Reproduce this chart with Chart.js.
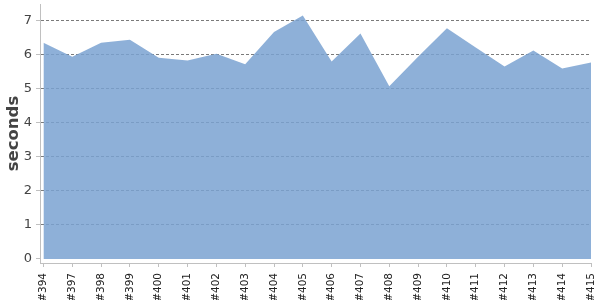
<!DOCTYPE html>
<html>
<head>
<meta charset="utf-8">
<script src="https://cdn.jsdelivr.net/npm/chart.js@4/dist/chart.umd.min.js"></script>
<style>
  html, body { margin: 0; padding: 0; background: #fff; }
  #wrap { width: 600px; height: 300px; position: relative; }
</style>
</head>
<body>
<div id="wrap"><canvas id="buildChart"></canvas></div>
<script>
// build numbers on the x axis
const builds = ['#394', '#397', '#398', '#399', '#400', '#401', '#402', '#403', '#404', '#405',
                '#406', '#407', '#408', '#409', '#410', '#411', '#412', '#413', '#414', '#415'];
// build duration, seconds
const durations = [6.36, 5.95, 6.36, 6.45, 5.92, 5.84, 6.04, 5.73, 6.68, 7.16,
                   5.81, 6.63, 5.08, 5.95, 6.79, 6.22, 5.66, 6.13, 5.60, 5.78];
const yTicks = [0, 1, 2, 3, 4, 5, 6, 7];

const ctx = document.getElementById('buildChart').getContext('2d');

new Chart(ctx, {
    type: 'line',
    data: {
        datasets: [{
            label: 'seconds',
            data: durations.map((v, i) => ({ x: i, y: v })),
            fill: 'origin',
            // semi-transparent so the grid shows faintly through the area
            backgroundColor: 'rgba(122, 162, 209, 0.85)',
            borderWidth: 0,
            pointRadius: 0,
            tension: 0
        }]
    },
    options: {
        responsive: true,
        maintainAspectRatio: false,
        animation: false,
        layout: { padding: { top: 4, right: 9, left: 0, bottom: 0 } },
        plugins: {
            legend: { display: false },
            tooltip: { enabled: false }
        },
        scales: {
            x: {
                type: 'linear',
                min: -0.12,
                max: builds.length - 1,
                afterBuildTicks: (axis) => { axis.ticks = builds.map((_, i) => ({ value: i })); },
                afterFit: (axis) => {
                    axis.height = 37;
                    axis.paddingLeft = 0;
                    axis.paddingRight = 0;
                },
                border: { color: '#c0c0c0', width: 1 },
                grid: {
                    drawOnChartArea: false,
                    tickLength: 4,
                    tickColor: '#c0c0c0'
                },
                ticks: {
                    autoSkip: false,
                    minRotation: 90,
                    maxRotation: 90,
                    padding: 6,
                    color: '#222',
                    font: { family: 'DejaVu Sans', size: 10.5 },
                    callback: (v) => builds[v]
                }
            },
            y: {
                min: -0.118,
                max: 7.5,
                afterBuildTicks: (axis) => { axis.ticks = yTicks.map(v => ({ value: v })); },
                afterFit: (axis) => {
                    axis.width = 40;
                    axis.paddingTop = 0;
                    axis.paddingBottom = 0;
                },
                border: { color: '#c0c0c0', width: 1, dash: [3, 2] },
                grid: {
                    color: (c) => c.tick && c.tick.value === 0 ? 'rgba(0,0,0,0)' : '#7a7a7a',
                    tickLength: 4,
                    tickColor: '#c0c0c0',
                    tickBorderDash: [0, 0]
                },
                ticks: {
                    padding: 4,
                    color: '#444',
                    font: { family: 'DejaVu Sans', size: 13 }
                },
                title: {
                    display: true,
                    text: 'seconds',
                    color: '#444',
                    padding: { top: 4, bottom: 4 },
                    font: { family: 'DejaVu Sans', size: 16.5, weight: '600' }
                }
            }
        }
    }
});
</script>
</body>
</html>
